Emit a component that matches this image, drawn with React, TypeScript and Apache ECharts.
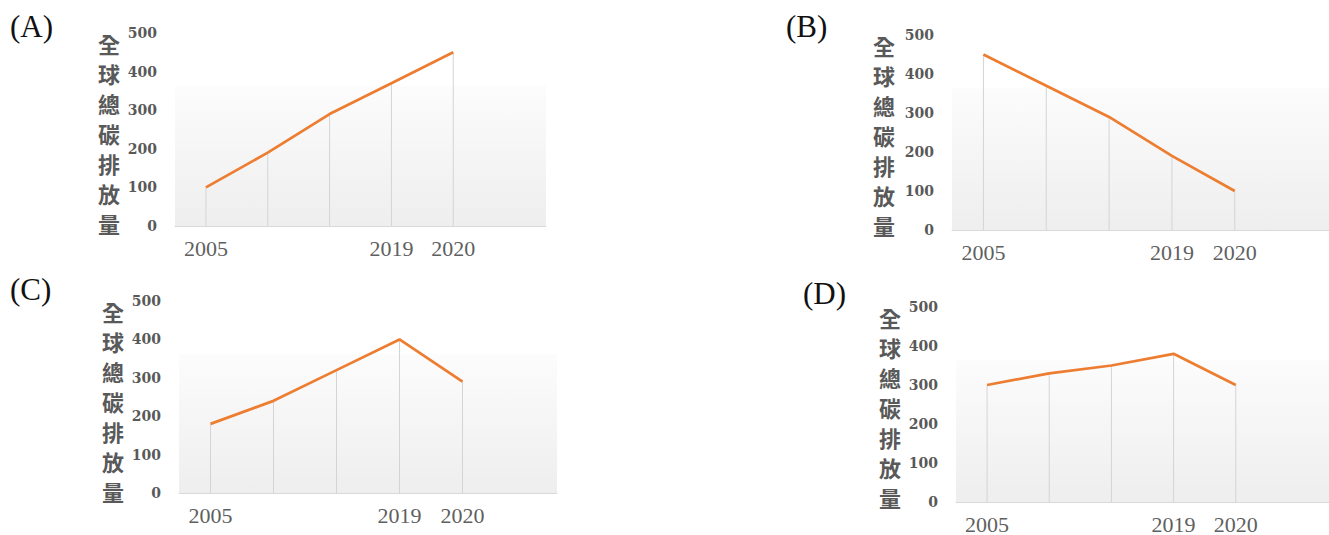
import React, { useEffect, useRef } from "react";
import * as echarts from "echarts";

// ---- data ----
const categories = ["2005", "", "", "2019", "2020", ""];
const seriesA = [100, 190, 290, 370, 450];
const seriesB = [450, 370, 290, 190, 100];
const seriesC = [180, 240, 320, 400, 290];
const seriesD = [300, 330, 350, 380, 300];
const panelLabels = ["(A)", "(B)", "(C)", "(D)"];
const yTitle = "全球總碳排放量";
const yMax = 500;
const yInterval = 100;

// ---- layout ----
const panels = [
  { data: seriesA, left: 175, top: 33, width: 371, height: 193, labelX: 10, labelY: 28, titleX: 109, titleY: 28 },
  { data: seriesB, left: 952, top: 35, width: 381, height: 195, labelX: 786, labelY: 28, titleX: 884, titleY: 30 },
  { data: seriesC, left: 179, top: 301, width: 378, height: 192, labelX: 10, labelY: 291, titleX: 113, titleY: 296 },
  { data: seriesD, left: 956, top: 307, width: 384, height: 195, labelX: 803, labelY: 295, titleX: 890, titleY: 302 },
];

const gridBg = new echarts.graphic.LinearGradient(0, 0, 0, 1, [
  { offset: 0, color: "#ffffff" },
  { offset: 0.27, color: "#ffffff" },
  { offset: 0.28, color: "#fcfcfc" },
  { offset: 1, color: "#eeeeee" },
]);

export default function App() {
  const ref = useRef<HTMLDivElement>(null);
  useEffect(() => {
    if (!ref.current) return;
    const chart = echarts.init(ref.current, undefined, { renderer: "svg" });
    const option: any = {
      animation: false,
      backgroundColor: "#ffffff",
      grid: panels.map((p) => ({
        left: p.left,
        top: p.top,
        width: p.width,
        height: p.height,
        show: true,
        backgroundColor: gridBg,
        borderWidth: 0,
        containLabel: false,
      })),
      xAxis: panels.map((p, i) => ({
        type: "category",
        gridIndex: i,
        data: categories,
        boundaryGap: true,
        axisLine: { show: true, lineStyle: { color: "#d9d9d9", width: 1 } },
        axisTick: { show: false },
        splitLine: { show: false },
        axisLabel: {
          interval: 0,
          margin: 11,
          color: "#5f5f5f",
          fontFamily: "Liberation Serif",
          fontSize: 22,
        },
      })),
      yAxis: panels.map((p, i) => ({
        type: "value",
        gridIndex: i,
        min: 0,
        max: yMax,
        interval: yInterval,
        axisLine: { show: false },
        axisTick: { show: false },
        splitLine: { show: false },
        axisLabel: {
          margin: 18,
          color: "#595959",
          fontFamily: "DejaVu Serif",
          fontWeight: "bold",
          fontSize: 14,
        },
      })),
      series: panels.flatMap((p, i) => [
        {
          type: "bar",
          xAxisIndex: i,
          yAxisIndex: i,
          data: p.data,
          barWidth: 1,
          silent: true,
          itemStyle: { color: "#d4d4d4" },
          z: 1,
        },
        {
          type: "line",
          xAxisIndex: i,
          yAxisIndex: i,
          data: p.data,
          symbol: "none",
          silent: true,
          lineStyle: { color: "#ED7D31", width: 2.75 },
          z: 3,
        },
      ]),
      graphic: panels.flatMap((p, i) => [
        {
          type: "text",
          left: p.labelX,
          top: p.labelY - 17,
          style: {
            text: panelLabels[i],
            fill: "#111111",
            font: "31px 'Liberation Serif'",
          },
        },
        {
          type: "text",
          x: p.titleX,
          y: p.titleY,
          style: {
            text: yTitle.split("").join("\n"),
            fill: "#595959",
            font: "bold 22px 'Noto Sans CJK TC'",
            lineHeight: 30,
            align: "center",
            verticalAlign: "top",
          },
        },
      ]),
    };
    chart.setOption(option);
    return () => chart.dispose();
  }, []);
  return (
    <div
      ref={ref}
      style={{ position: "absolute", left: 0, top: 0, width: 1329, height: 535 }}
    />
  );
}
